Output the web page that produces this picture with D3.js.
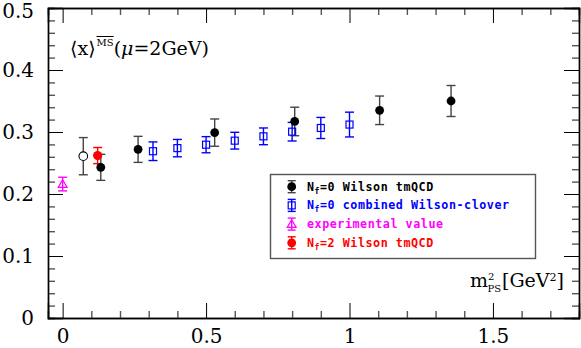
<html>
<head>
<script src="https://d3js.org/d3.v7.min.js"></script>
<style>
  body { margin: 0; background: #fff; }
  svg { font-family: "DejaVu Serif", serif; }
  .leg { font-family: "DejaVu Sans Mono", monospace; font-weight: bold; font-size: 11.7px; letter-spacing: 0.55px; }
</style>
</head>
<body>
<div id="chart"></div>
<script>
// Nf=0 Wilson tmQCD
var tmX = [0.133, 0.263, 0.530, 0.809, 1.105, 1.354];
var tmY = [0.243, 0.272, 0.299, 0.317, 0.335, 0.350];
var tmErr = [0.021, 0.021, 0.022, 0.023, 0.023, 0.025];
// chiral extrapolation (open circle)
var chiX = [0.072], chiY = [0.261], chiErr = [0.030];
// Nf=0 combined Wilson-clover
var clX = [0.315, 0.40, 0.50, 0.60, 0.70, 0.80, 0.90, 1.00];
var clY = [0.269, 0.274, 0.2795, 0.286, 0.293, 0.3005, 0.3065, 0.312];
var clErr = [0.015, 0.014, 0.013, 0.0135, 0.0135, 0.015, 0.017, 0.020];
// experimental value
var expX = [0.0], expY = [0.216], expErr = [0.011];
// Nf=2 Wilson tmQCD
var nf2X = [0.122], nf2Y = [0.262], nf2Err = [0.013];

var xTicks = [0, 0.5, 1, 1.5];
var yTicks = [0, 0.1, 0.2, 0.3, 0.4, 0.5];

var W = 581, H = 348;
var L = 48, R = 579, T = 8, B = 318;

var x = d3.scaleLinear().domain([-0.051, 1.8]).range([L, R]);
var y = d3.scaleLinear().domain([0, 0.5]).range([B, T]);

var svg = d3.select("#chart").append("svg")
  .attr("width", W).attr("height", H);

function zip(xs, ys, es) { return xs.map((v, i) => ({x: v, y: ys[i], e: es[i]})); }

/* minor ticks */
var xMinor = d3.range(0, 1.8, 0.1).filter(v => xTicks.indexOf(+v.toFixed(1)) < 0);
var yMinor = d3.range(0, 0.5, 0.02).filter(v => Math.abs(v * 10 - Math.round(v * 10)) > 1e-6);

function axisG(axis, tr) {
  var g = svg.append("g").attr("transform", tr).call(axis);
  g.select(".domain").attr("stroke", "#000").attr("stroke-width", 1.4);
  return g;
}

// minor ticks first (grey)
[
  [d3.axisBottom(x).tickValues(xMinor).tickSize(-7), `translate(0,${B})`],
  [d3.axisTop(x).tickValues(xMinor).tickSize(-7), `translate(0,${T})`],
  [d3.axisLeft(y).tickValues(yMinor).tickSize(-7), `translate(${L},0)`],
  [d3.axisRight(y).tickValues(yMinor).tickSize(-7), `translate(${R},0)`]
].forEach(function(a) {
  var g = axisG(a[0].tickFormat(""), a[1]);
  g.selectAll(".tick line").attr("stroke", "#555").attr("stroke-width", 1.4);
});

var gx = axisG(d3.axisBottom(x).tickValues(xTicks).tickSize(-15).tickPadding(11)
  .tickFormat(d => d === 0 ? "0" : d3.format("")(d)), `translate(0,${B})`);
axisG(d3.axisTop(x).tickValues(xTicks).tickSize(-15).tickFormat(""), `translate(0,${T})`);
var gy = axisG(d3.axisLeft(y).tickValues(yTicks).tickSize(-15).tickPadding(14)
  .tickFormat(d => d === 0 ? "0" : d3.format(".1f")(d)), `translate(${L},0)`);
axisG(d3.axisRight(y).tickValues(yTicks).tickSize(-15).tickFormat(""), `translate(${R},0)`);

[gx, gy].forEach(function(g) {
  g.selectAll(".tick text").attr("font-family", "DejaVu Serif").attr("font-size", 20).attr("fill", "#000");
});
gx.selectAll(".tick text").attr("dy", "0.68em");
// keep the top label inside the picture
gy.selectAll(".tick text").filter(d => d === 0.5).attr("dy", "0.47em");
svg.selectAll(".tick line").filter(function() { return !this.getAttribute("stroke"); })
  .attr("stroke", "#000").attr("stroke-width", 1.4);

/* error bars */
function errorbars(data, color, cap) {
  var g = svg.append("g").attr("stroke", color).attr("stroke-width", 1.4).attr("fill", "none");
  data.forEach(function(d) {
    g.append("line").attr("x1", x(d.x)).attr("x2", x(d.x)).attr("y1", y(d.y - d.e)).attr("y2", y(d.y + d.e));
    g.append("line").attr("x1", x(d.x) - cap).attr("x2", x(d.x) + cap).attr("y1", y(d.y - d.e)).attr("y2", y(d.y - d.e));
    g.append("line").attr("x1", x(d.x) - cap).attr("x2", x(d.x) + cap).attr("y1", y(d.y + d.e)).attr("y2", y(d.y + d.e));
  });
}

var tm = zip(tmX, tmY, tmErr), chi = zip(chiX, chiY, chiErr), cl = zip(clX, clY, clErr),
    ex = zip(expX, expY, expErr), nf2 = zip(nf2X, nf2Y, nf2Err);

errorbars(ex, "#ff00ff", 4.5);
errorbars(chi, "#444", 4.5);
errorbars(cl, "#0000ff", 4.5);
errorbars(tm, "#444", 4.5);
errorbars(nf2, "#ff0000", 4.5);

svg.append("g").selectAll("path").data(ex).enter().append("path")
  .attr("d", d3.symbol(d3.symbolTriangle, 34)())
  .attr("transform", d => `translate(${x(d.x)},${y(d.y) + 0.8})`)
  .attr("fill", "none").attr("stroke", "#ff00ff").attr("stroke-width", 1.2);
svg.append("g").selectAll("circle").data(chi).enter().append("circle")
  .attr("cx", d => x(d.x)).attr("cy", d => y(d.y)).attr("r", 4.3)
  .attr("fill", "#fff").attr("stroke", "#000").attr("stroke-width", 1.1);
svg.append("g").selectAll("rect").data(cl).enter().append("rect")
  .attr("x", d => x(d.x) - 3.5).attr("y", d => y(d.y) - 3.5).attr("width", 7).attr("height", 7)
  .attr("fill", "none").attr("stroke", "#0000ff").attr("stroke-width", 1.2);
svg.append("g").selectAll("circle").data(tm).enter().append("circle")
  .attr("cx", d => x(d.x)).attr("cy", d => y(d.y)).attr("r", 4.4).attr("fill", "#000");
svg.append("g").selectAll("circle").data(nf2).enter().append("circle")
  .attr("cx", d => x(d.x)).attr("cy", d => y(d.y)).attr("r", 4.6).attr("fill", "#ff0000");

/* title */
var title = svg.append("text").attr("x", 70).attr("y", 55).attr("font-size", 19).attr("fill", "#000");
title.append("tspan").text("\u27E8x\u27E9");
title.append("tspan").attr("font-size", 10).attr("dy", -9).attr("dx", 1)
  .style("text-decoration", "overline").text("MS");
title.append("tspan").attr("dy", 9).text("(");
title.append("tspan").attr("font-style", "italic").text("\u03BC");
title.append("tspan").text("=2GeV)");

/* x label */
var xl = svg.append("text").attr("x", 470).attr("y", 287).attr("font-size", 19).attr("fill", "#000");
xl.append("tspan").text("m");
xl.append("tspan").attr("font-size", 10).attr("dy", -7).text("2");
xl.append("tspan").attr("font-size", 10).attr("dy", 12).attr("dx", -7).text("PS");
xl.append("tspan").attr("dy", -5).attr("dx", 1).text("[GeV");
xl.append("tspan").attr("font-size", 11).attr("dy", -6).text("2");
xl.append("tspan").attr("dy", 6).text("]");

/* legend */
var legItems = [
  {sym: "dot", color: "#000", ecolor: "#444", pre: "N", sub: "f", post: "=0 Wilson tmQCD"},
  {sym: "sq", color: "#0000ff", ecolor: "#0000ff", pre: "N", sub: "f", post: "=0 combined Wilson-clover"},
  {sym: "tri", color: "#ff00ff", ecolor: "#ff00ff", pre: "", sub: "", post: "experimental value"},
  {sym: "dot", color: "#ff0000", ecolor: "#ff0000", pre: "N", sub: "f", post: "=2 Wilson tmQCD"}
];
svg.append("rect").attr("x", 270.5).attr("y", 174.5).attr("width", 265).attr("height", 84)
  .attr("fill", "#fff").attr("stroke", "#555").attr("stroke-width", 1.4);
legItems.forEach(function(it, i) {
  var cy = 186.7 + i * 18.7, cx = 291.7;
  var g = svg.append("g");
  g.append("line").attr("x1", cx).attr("x2", cx).attr("y1", cy - 6).attr("y2", cy + 6)
    .attr("stroke", it.ecolor).attr("stroke-width", 1.4);
  [-6, 6].forEach(function(o) {
    g.append("line").attr("x1", cx - 4).attr("x2", cx + 4).attr("y1", cy + o).attr("y2", cy + o)
      .attr("stroke", it.ecolor).attr("stroke-width", 1.4);
  });
  if (it.sym === "dot") g.append("circle").attr("cx", cx).attr("cy", cy).attr("r", 4.4).attr("fill", it.color);
  if (it.sym === "sq") g.append("rect").attr("x", cx - 3.5).attr("y", cy - 3.5).attr("width", 7).attr("height", 7)
    .attr("fill", "none").attr("stroke", it.color).attr("stroke-width", 1.2);
  if (it.sym === "tri") g.append("path").attr("d", d3.symbol(d3.symbolTriangle, 34)())
    .attr("transform", `translate(${cx},${cy + 0.8})`).attr("fill", "none").attr("stroke", it.color).attr("stroke-width", 1.2);
  var t = g.append("text").attr("class", "leg").attr("x", 307).attr("y", cy + 4).attr("fill", it.color);
  if (it.pre) {
    t.append("tspan").text(it.pre);
    t.append("tspan").attr("font-size", 8).attr("dy", 3).text(it.sub);
    t.append("tspan").attr("dy", -3).text(it.post);
  } else {
    t.text(it.post);
  }
});
</script>
</body>
</html>
